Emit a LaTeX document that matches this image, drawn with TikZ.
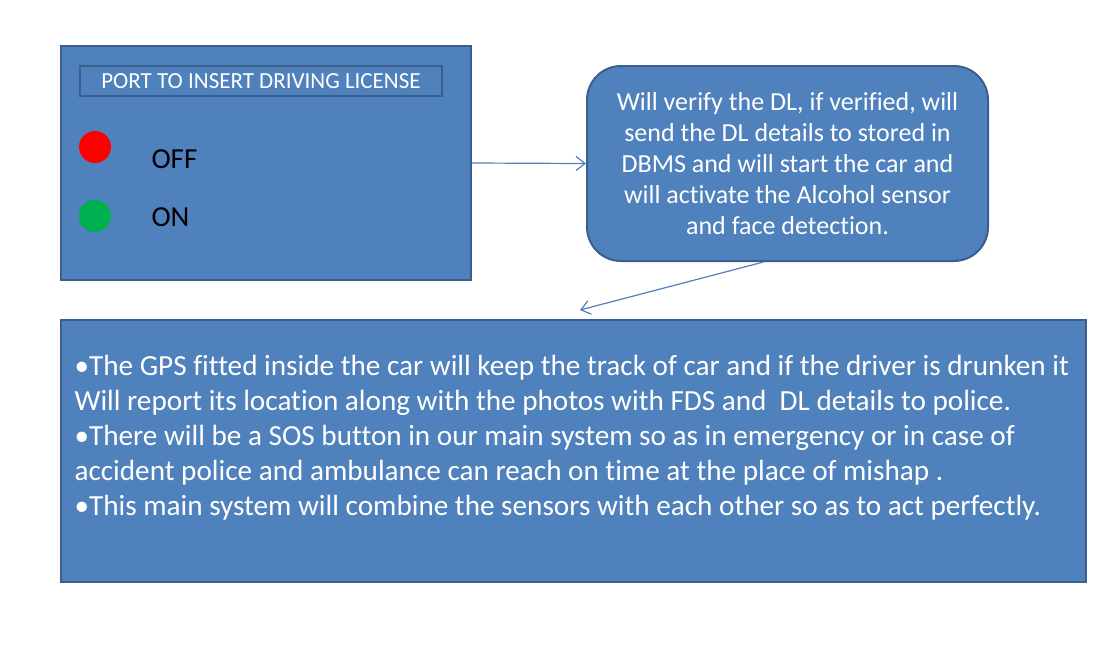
\documentclass[tikz,border=0pt]{standalone}
\usepackage{fontspec}
\setmainfont{Carlito}[Ligatures=NoCommon]
\usetikzlibrary{positioning}
\usetikzlibrary{calc,arrows.meta}
\definecolor{boxblue}{HTML}{4F81BD}
\definecolor{boxedge}{HTML}{3B5F8C}
\tikzset{
	panel/.style={draw=boxedge, line width=2pt, fill=boxblue, inner sep=0pt},
	lamp/.style={circle, inner sep=0pt, minimum size=32pt},
	link/.style={draw=boxblue, line width=1.2pt, -{Straight Barb[length=9pt,width=14pt]}},
}
\begin{document}
\begin{tikzpicture}[x=1pt,y=-1pt]
	\useasboundingbox (0,0) rectangle (1110,662);

	%License unit
	\node[panel, minimum width=410pt, minimum height=234pt] (DL) at (266,163) {};
	\node[panel, minimum width=362pt, minimum height=30pt, text=white, font=\fontsize{23}{26}\selectfont] (Port) at (261,81) {PORT TO INSERT DRIVING LICENSE};
	\node[lamp, fill=red] (Off) at (95,147) {};
	\node[lamp, fill={rgb,255:red,0;green,176;blue,80}] (On) at (95,216) {};
	\node[anchor=west, font=\fontsize{29}{32}\selectfont] (OffText) at (148,159) {OFF};
	\node[anchor=west, font=\fontsize{29}{32}\selectfont] (OnText) at (148,217) {ON};

	%Verification unit
	\node[panel, rounded corners=34pt, minimum width=401pt, minimum height=195pt, text=white, align=center, font=\fontsize{26}{31}\selectfont] (Verify) at (787.5,163.5) {Will verify the DL, if verified, will\\send the DL details to stored in\\DBMS and will start the car and\\will activate the Alcohol sensor\\and face detection.};

	%Main system
	\node[panel, minimum width=1025pt, minimum height=262pt] (Main) at (573.5,451) {};
	\node[anchor=west, text=white, align=left, font=\fontsize{29.2}{35}\selectfont] (MainText) at (71,438) {•The GPS fitted inside the car will keep the track of car and if the driver is drunken it\\Will report its location along with the photos with FDS and\ \ DL details to police.\\•There will be a SOS button in our main system so as in emergency or in case of\\accident police and ambulance can reach on time at the place of mishap .\\•This main system will combine the sensors with each other so as to act perfectly.};

	%Connectors
	\coordinate (MainTip) at (580,310);
	\draw[link] (DL.east) -- (Verify.west);
	\draw[link] ([xshift=-24pt]Verify.south) -- (MainTip);
\end{tikzpicture}
\end{document}
